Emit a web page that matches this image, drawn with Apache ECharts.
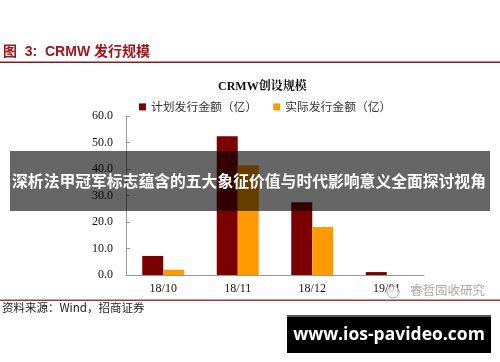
<!DOCTYPE html>
<html><head><meta charset="utf-8">
<script src="https://cdn.jsdelivr.net/npm/echarts@6/dist/echarts.min.js"></script>
<style>html,body{margin:0;padding:0;background:#fff}#c{width:500px;height:362px}</style>
</head><body><div id="c"></div>
<script>
var categories = ['18/10', '18/11', '18/12', '19/01'];
var planned = [7.2, 52.4, 27.5, 1.1];
var actual = [2.0, 41.4, 18.1, 0];
var yTicks = [0, 10, 20, 30, 40, 50, 60];
var seriesNames = ['计划发行金额（亿）', '实际发行金额（亿）'];

var chart = echarts.init(document.getElementById('c'), null, {renderer: 'canvas'});
var serif = '"Liberation Serif","Noto Serif CJK SC","Noto Sans CJK SC",serif';
var cjk = '"Noto Sans CJK SC","Liberation Sans",sans-serif';
chart.setOption({
  animation: false,
  backgroundColor: '#fff',
  title: {
    text: 'CRMW创设规模', left: 213, top: 76,
    textStyle: {fontFamily: serif, fontWeight: 'bold', fontSize: 12, color: '#111'}
  },
  legend: {
    left: 134, top: 96, itemWidth: 7, itemHeight: 7, itemGap: 16, icon: 'rect',
    textStyle: {fontFamily: cjk, fontSize: 11.8, color: '#333'},
    data: seriesNames
  },
  grid: {left: 126, right: 76, top: 116, bottom: 87, containLabel: false},
  xAxis: {
    type: 'category', data: categories,
    axisLine: {lineStyle: {color: '#999', width: 1}},
    axisTick: {inside: true, length: 4, lineStyle: {color: '#999'}},
    axisLabel: {fontFamily: serif, fontSize: 12, color: '#111', margin: 8}
  },
  yAxis: {
    type: 'value', min: yTicks[0], max: yTicks[yTicks.length - 1], interval: 10,
    axisLine: {show: true, lineStyle: {color: '#999', width: 1}},
    axisTick: {show: true, inside: true, length: 4, lineStyle: {color: '#999'}},
    splitLine: {show: false},
    axisLabel: {fontFamily: serif, fontSize: 12, color: '#111', margin: 13,
      formatter: function (v) { return v.toFixed(1); }}
  },
  series: [
    {name: seriesNames[0], type: 'bar', data: planned, barWidth: 21, barGap: '0%',
     itemStyle: {color: '#7B0000'}},
    {name: seriesNames[1], type: 'bar', data: actual, barWidth: 21,
     itemStyle: {color: '#FF9A00'}}
  ],
  graphic: [
    {type: 'text', left: 3, top: 45, z: 10,
     style: {text: '图  3:  CRMW 发行规模', fontFamily: '"Liberation Sans","Noto Sans CJK SC",sans-serif',
       fontWeight: 'bold', fontSize: 14, fill: '#A0151B'}},
    {type: 'rect', shape: {x: 0, y: 61.5, width: 500, height: 1.6}, style: {fill: '#8E1A1A'}, z: 10},
    {type: 'rect', shape: {x: 0, y: 299.5, width: 500, height: 1.4}, style: {fill: '#9E3A3A'}, z: 10},
    {type: 'text', left: 2, top: 302, z: 10,
     style: {text: '资料来源：Wind，招商证券', fontFamily: cjk, fontSize: 11.5, fill: '#222'}},
    {type: 'circle', shape: {cx: 393, cy: 292, r: 6}, style: {fill: 'rgba(255,255,255,0.7)', stroke: '#aaa', lineWidth: 1}, z: 20},
    {type: 'text', left: 410, top: 284, z: 20,
     style: {text: '睿哲固收研究', fontFamily: cjk, fontSize: 12.5, fill: 'rgba(150,150,150,0.85)'}},
    {type: 'rect', shape: {x: 10, y: 151, width: 480, height: 60}, style: {fill: 'rgba(0,0,0,0.6)'}, z: 50},
    {type: 'text', x: 249, y: 181, z: 51,
     style: {text: '深析法甲冠军标志蕴含的五大象征价值与时代影响意义全面探讨视角', fontFamily: cjk,
       fontWeight: 'bold', fontSize: 15.8, fill: '#fff', align: 'center', verticalAlign: 'middle'}},
    {type: 'rect', shape: {x: 287, y: 315, width: 204, height: 38}, style: {fill: '#000'}, z: 50},
    {type: 'rect', shape: {x: 287, y: 315, width: 204, height: 2}, style: {fill: '#555'}, z: 51},
    {type: 'text', x: 389, y: 335, z: 51,
     style: {text: 'www.ios-pavideo.com', fontFamily: '"Open Sans","DejaVu Sans",sans-serif',
       fontWeight: 'bold', fontSize: 17.5, fill: '#fff', align: 'center', verticalAlign: 'middle'}}
  ]
});
</script></body></html>
